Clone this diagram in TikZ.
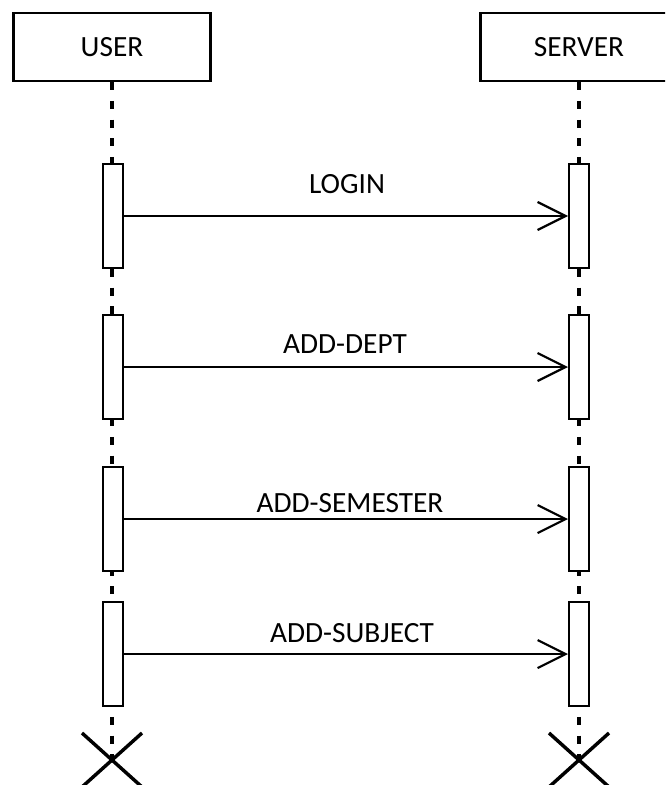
\documentclass[tikz,border=0pt]{standalone}
\usepackage{fontspec}
\setmainfont{Carlito}
\usepackage{tikz}
\usetikzlibrary{arrows.meta,positioning,calc}

\begin{document}
\begin{tikzpicture}[
  x=0.75pt,y=-0.75pt,
  every node/.style={font=\fontsize{22pt}{26pt}\selectfont,align=center},
  box/.style={draw=black,line width=1.8pt,fill=white,minimum width=147.75pt,minimum height=51pt,inner sep=0pt},
  bar/.style={draw=black,line width=1.5pt,fill=white,minimum width=15pt,minimum height=78pt,inner sep=0pt},
  life/.style={line width=2.8pt,dash pattern=on 6pt off 8pt},
  arr/.style={-{Straight Barb[length=21pt,width=21pt,line width=1.6pt]},line width=1.5pt,color=black},
  lbl/.style={anchor=base,inner sep=0pt},
  endx/.style={line width=2.6pt}
]
\clip (0,0) rectangle (665,785);
\useasboundingbox (0,0) rectangle (665,785);
% participants
\node[box] (user) at (112,47) {USER};
\node[box] (server) at (579,47) {SERVER};
\coordinate (uend) at (112,760);
\coordinate (send) at (579,760);
\draw[life] (user.south) -- (uend);
\draw[life] (server.south) -- (send);
% activation bars
\node[bar] (u1) at (113,216) {};
\node[bar] (s1) at (579,216) {};
\node[bar] (u2) at (113,367) {};
\node[bar] (s2) at (579,367) {};
\node[bar] (u3) at (113,519) {};
\node[bar] (s3) at (579,519) {};
\node[bar] (u4) at (113,654) {};
\node[bar] (s4) at (579,654) {};
% messages
\draw[arr] (u1.east) -- (s1.west);
\draw[arr] (u2.east) -- (s2.west);
\draw[arr] (u3.east) -- (s3.west);
\draw[arr] (u4.east) -- (s4.west);
\node[lbl] (login) at (347,193) {LOGIN};
\node[lbl] (dept) at (345,353) {ADD-DEPT};
\node[lbl] (sem) at (350,512) {ADD-SEMESTER};
\node[lbl] (subj) at (352,642) {ADD-SUBJECT};
% destruction
\draw[endx] ($(uend)+(-30,-27)$) -- ($(uend)+(30,27)$);
\draw[endx] ($(uend)+(-30,27)$) -- ($(uend)+(30,-27)$);
\draw[endx] ($(send)+(-30,-27)$) -- ($(send)+(30,27)$);
\draw[endx] ($(send)+(-30,27)$) -- ($(send)+(30,-27)$);
\end{tikzpicture}
\end{document}
